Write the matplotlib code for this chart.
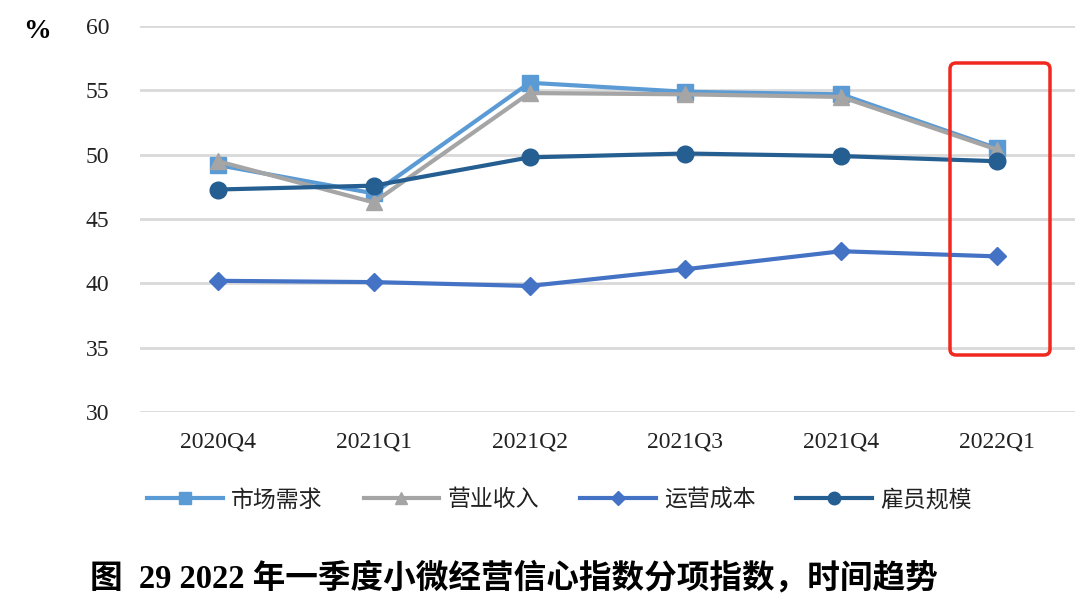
import matplotlib

matplotlib.use("Agg")
import matplotlib.pyplot as plt
from matplotlib.patches import FancyBboxPatch

plt.rcParams["font.family"] = ["Liberation Serif", "Noto Sans CJK SC"]

quarters = ["2020Q4", "2021Q1", "2021Q2", "2021Q3", "2021Q4", "2022Q1"]
market_demand = [49.2, 47.0, 55.6, 54.9, 54.7, 50.5]
revenue = [49.5, 46.3, 54.8, 54.7, 54.5, 50.4]
operating_cost = [40.2, 40.1, 39.8, 41.1, 42.5, 42.1]
staff_size = [47.3, 47.6, 49.8, 50.1, 49.9, 49.5]
y_ticks = [30, 35, 40, 45, 50, 55, 60]

series = [
    ("市场需求", market_demand, "#5B9BD5", "s", 11),
    ("营业收入", revenue, "#A5A5A5", "^", 11),
    ("运营成本", operating_cost, "#4472C4", "D", 9),
    ("雇员规模", staff_size, "#255E91", "o", 12),
]

fig = plt.figure(figsize=(10.8, 6.09), dpi=100)
ax = fig.add_axes([0.1296, 0.3235, 0.8658, 0.6335])

x = range(len(quarters))
for name, vals, color, marker, ms in series:
    ax.plot(x, vals, color=color, lw=3, marker=marker, markersize=ms,
            label=name, zorder=3)

ax.set_xlim(-0.5, len(quarters) - 0.5)
ax.set_ylim(30, 60)
ax.set_yticks(y_ticks)
ax.set_xticks(list(x))
ax.set_xticklabels(quarters)
ax.tick_params(axis="both", length=0, labelsize=17, colors="#222222")
ax.tick_params(axis="x", pad=14)
ax.tick_params(axis="y", pad=22)
ax.grid(axis="y", color="#D9D9D9", lw=2)
ax.set_axisbelow(True)
for s in ax.spines.values():
    s.set_visible(False)

# red highlight box around the latest quarter
box = FancyBboxPatch((950, 609 - 355), 100, 292,
                     boxstyle="round,pad=0,rounding_size=6",
                     transform=None, fill=False, edgecolor="#F0281E",
                     lw=2.5, zorder=5, clip_on=False)
fig.patches.append(box)

fig.text(37 / 1080, 1 - 32 / 609, "%", fontsize=20, ha="center", va="center",
         fontweight="bold")

leg = fig.legend(loc="center", bbox_to_anchor=(0.518, 1 - 500 / 609), ncol=4,
                 frameon=False, handlelength=3.3, columnspacing=1.8,
                 handletextpad=0.35, markerscale=0.75,
                 prop={"family": "Noto Sans CJK SC", "size": 16.5})
for t in leg.get_texts():
    t.set_color("#222222")

fig.text(90 / 1080, 1 - 578 / 609, "图  29 2022 年一季度小微经营信心指数分项指数，时间趋势",
         fontsize=23.5, fontweight="bold", ha="left", va="center")

fig.savefig("out.png", dpi=100)
